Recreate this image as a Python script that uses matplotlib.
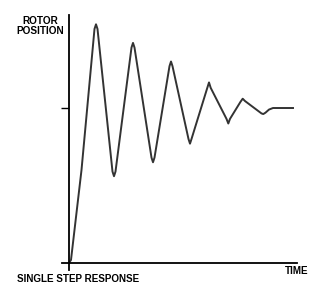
import matplotlib
matplotlib.use("Agg")
import matplotlib.pyplot as plt

# rotor position (time in arbitrary units, position relative to final step)
# a couple of points either side of each turning point to keep the rounded tips
time = [0, 2, 12.5,
        25.5, 27, 28.5,
        43.5, 45, 46.5,
        62.5, 64, 65.5,
        82.5, 84, 85.5,
        100.5, 102, 103.5,
        119.5, 121, 122.5,
        138.3, 140, 141.7,
        157.5, 159.3, 161,
        171.5, 173.7, 176,
        192.5, 194.3, 196.5,
        200, 204, 224]
position = [0, 0.02, 0.60,
            1.51, 1.54, 1.51,
            0.59, 0.56, 0.59,
            1.39, 1.42, 1.39,
            0.68, 0.65, 0.68,
            1.27, 1.30, 1.27,
            0.80, 0.77, 0.80,
            1.13, 1.165, 1.13,
            0.93, 0.90, 0.93,
            1.04, 1.06, 1.045,
            0.965, 0.961, 0.97,
            0.99, 1.0, 1.0]

plt.rcParams['font.family'] = ['Liberation Sans', 'DejaVu Sans']

fig = plt.figure(figsize=(3.2, 2.95), dpi=100)
ax = fig.add_axes([62 / 320, 25 / 295, 235 / 320, 255 / 295])

ax.plot(time, position, color='#333333', lw=1.4, solid_joinstyle='round')

ax.set_xlim(-7, 228)
ax.set_ylim(-0.045, 1.6)

# axes crossing at the origin
ax.spines['left'].set_position(('data', 0))
ax.spines['bottom'].set_position(('data', 0))
ax.spines['right'].set_visible(False)
ax.spines['top'].set_visible(False)
for s in ['left', 'bottom']:
    ax.spines[s].set_linewidth(1.3)

ax.set_xticks([])
ax.set_yticks([1.0])
ax.set_yticklabels([])
ax.tick_params(axis='y', direction='out', length=6, width=1.0)

fig.text(64 / 320, 1 - 16 / 295, 'ROTOR\nPOSITION', ha='right', va='top',
         ma='center', fontsize=7.2, fontweight='bold', linespacing=1.05)
fig.text(17 / 320, 1 - 284 / 295, 'SINGLE STEP RESPONSE', ha='left', va='bottom',
         fontsize=7.1, fontweight='bold')
fig.text(308 / 320, 1 - 276 / 295, 'TIME', ha='right', va='bottom',
         fontsize=7.1, fontweight='bold')

fig.savefig('out.png', dpi=100)
